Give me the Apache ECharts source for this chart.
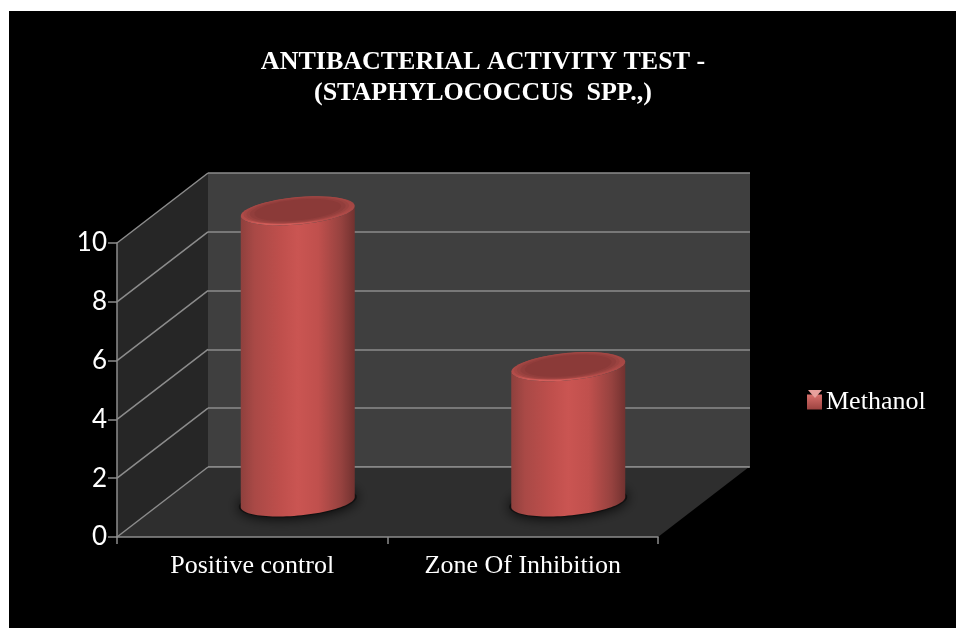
<!DOCTYPE html>
<html>
<head>
<meta charset="utf-8">
<title>Antibacterial activity test</title>
<script src="https://cdn.jsdelivr.net/npm/echarts@6/dist/echarts.min.js"></script>
<style>
    html, body { margin: 0; padding: 0; background: #fff; overflow: hidden; }
    #chart { position: absolute; left: 9px; top: 11px; width: 947px; height: 617px; background: #000; }
</style>
</head>
<body>
<div id="chart"></div>
<script>
const categories = ["Positive control", "Zone Of Inhibition"];
const methanol = [9.9, 4.6];
const yTicks = [0, 2, 4, 6, 8, 10];
const seriesName = "Methanol";

// offset from the front plane of the chart to the back wall
const DEPTH_X = 91;
const DEPTH_Y = -70;
const LINE = "#8c8c8c";

const chart = echarts.init(document.getElementById("chart"));

function ellipsePoints(cx, cy, rx, ry, tilt, from, to) {
    const pts = [];
    const steps = 48;
    for (let i = 0; i <= steps; i++) {
        const t = from + (to - from) * i / steps;
        pts.push([
            cx + rx * Math.cos(t),
            cy + ry * Math.sin(t) - tilt * Math.cos(t)
        ]);
    }
    return pts;
}

function renderRoom(params, api) {
    const c = params.coordSys;
    const x0 = c.x, x1 = c.x + c.width;
    const y0 = c.y + c.height, y1 = c.y;
    const children = [
        {
            type: "polygon",
            shape: { points: [[x0, y1], [x0 + DEPTH_X, y1 + DEPTH_Y], [x0 + DEPTH_X, y0 + DEPTH_Y], [x0, y0]] },
            style: { fill: "#262626" }
        },
        {
            type: "polygon",
            shape: { points: [[x0, y0], [x0 + DEPTH_X, y0 + DEPTH_Y], [x1 + DEPTH_X, y0 + DEPTH_Y], [x1, y0]] },
            style: { fill: "#2e2e2e" }
        },
        {
            type: "line",
            shape: { x1: x0 + DEPTH_X, y1: y0 + DEPTH_Y, x2: x1 + DEPTH_X, y2: y0 + DEPTH_Y },
            style: { stroke: LINE, lineWidth: 1.5 }
        }
    ];
    yTicks.forEach(v => {
        const y = api.coord([0, v])[1];
        children.push({
            type: "line",
            shape: { x1: x0, y1: y, x2: x0 + DEPTH_X, y2: y + DEPTH_Y },
            style: { stroke: LINE, lineWidth: 1.5 }
        });
    });
    return { type: "group", children: children };
}

function renderCylinder(params, api) {
    const base = api.coord([api.value(0), 0]);
    const top = api.coord([api.value(0), api.value(1)]);
    const cx = base[0] + DEPTH_X / 2;
    const rx = 57;
    const ry = 13.6;
    const tilt = 5;
    const yb = base[1] + DEPTH_Y / 2;
    const yt = top[1] + DEPTH_Y / 2;

    const body = ellipsePoints(cx, yb, rx, ry, tilt, Math.PI, 0)
        .reverse()
        .concat([])
        .map(p => p);
    // lower half of the base, then back up along the lower half of the top
    const lowerBase = ellipsePoints(cx, yb, rx, ry, tilt, Math.PI, 0);
    const lowerTop = ellipsePoints(cx, yt, rx, ry, tilt, 0, Math.PI);

    const children = [
        {
            type: "polygon",
            shape: { points: ellipsePoints(cx, yb, rx + 2, ry + 1, tilt, 0, Math.PI * 2) },
            style: { fill: "#111", shadowBlur: 14, shadowColor: "#000" }
        },
        {
            type: "polygon",
            shape: { points: lowerBase.concat(lowerTop) },
            style: {
                fill: new echarts.graphic.LinearGradient(0, 0, 1, 0, [
                    { offset: 0, color: "#8e403d" },
                    { offset: 0.12, color: "#a94946" },
                    { offset: 0.35, color: "#bf4f4c" },
                    { offset: 0.5, color: "#ca5552" },
                    { offset: 0.68, color: "#c0504d" },
                    { offset: 0.88, color: "#96423f" },
                    { offset: 1, color: "#723230" }
                ])
            }
        },
        {
            type: "polygon",
            shape: { points: ellipsePoints(cx, yt, rx, ry, tilt, 0, Math.PI * 2) },
            style: {
                fill: new echarts.graphic.LinearGradient(0, 0, 0, 1, [
                    { offset: 0, color: "#9c4441" },
                    { offset: 0.8, color: "#b54d4a" },
                    { offset: 1, color: "#d9615d" }
                ])
            }
        }
    ];
    [[0.95, "#a54744"], [0.9, "#9b4340"], [0.84, "#923e3c"], [0.76, "#8b3a38"]].forEach(layer => {
        const s = layer[0];
        children.push({
            type: "polygon",
            shape: { points: ellipsePoints(cx, yt - 1, rx * s, ry * s, tilt * s, 0, Math.PI * 2) },
            style: { fill: layer[1] }
        });
    });
    return { type: "group", children: children };
}

chart.setOption({
    animation: false,
    backgroundColor: "#000",
    title: {
        text: "ANTIBACTERIAL ACTIVITY TEST -\n(STAPHYLOCOCCUS  SPP.,)",
        left: 469,
        top: 31,
        textAlign: "center",
        textStyle: {
            color: "#fff",
            fontFamily: "Liberation Serif",
            fontWeight: "bold",
            fontSize: 26,
            lineHeight: 31
        }
    },
    legend: {
        left: 798,
        top: 378,
        itemWidth: 15,
        itemHeight: 15,
        itemGap: 0,
        padding: 0,
        data: [{
            name: seriesName,
            icon: "rect",
            itemStyle: {
                color: new echarts.graphic.LinearGradient(0, 0, 0, 1, [
                    { offset: 0, color: "#d9706c" },
                    { offset: 1, color: "#9c4340" }
                ])
            }
        }],
        textStyle: {
            color: "#fff",
            fontFamily: "Liberation Serif",
            fontSize: 26,
            padding: [0, 0, 0, -1]
        }
    },
    graphic: [{
        type: "polygon",
        z: 100,
        shape: { points: [[799, 379], [813, 379], [806, 387]] },
        style: { fill: "#e8a09c" }
    }],
    grid: [
        { left: 108, top: 232, width: 541, height: 294 },
        { left: 199, top: 162, width: 542, height: 294, show: true, backgroundColor: "#3f3f3f", borderWidth: 0 }
    ],
    xAxis: [
        {
            type: "category",
            data: categories,
            z: 5,
            axisLine: { show: true, lineStyle: { color: LINE, width: 1.5 } },
            axisTick: { show: true, length: 7, lineStyle: { color: LINE, width: 1.5 } },
            axisLabel: {
                color: "#fff",
                fontFamily: "Liberation Serif",
                fontSize: 26,
                margin: 16,
                interval: 0
            }
        },
        {
            type: "category",
            gridIndex: 1,
            data: categories,
            axisLine: { show: false },
            axisTick: { show: false },
            axisLabel: { show: false }
        }
    ],
    yAxis: [
        {
            type: "value",
            min: 0,
            max: 10,
            interval: 2,
            z: 5,
            axisLine: { show: true, lineStyle: { color: LINE, width: 1.5 } },
            axisTick: { show: true, length: 9, lineStyle: { color: LINE, width: 1.5 } },
            splitLine: { show: false },
            axisLabel: {
                color: "#fff",
                fontFamily: "Lato",
                fontSize: 26,
                margin: 10
            }
        },
        {
            type: "value",
            gridIndex: 1,
            min: 0,
            max: 10,
            interval: 2,
            axisLine: { show: false },
            axisTick: { show: false },
            axisLabel: { show: false },
            splitLine: { show: true, lineStyle: { color: LINE, width: 1.5 } }
        }
    ],
    series: [
        {
            type: "custom",
            name: "room",
            z: 1,
            silent: true,
            coordinateSystem: "cartesian2d",
            renderItem: renderRoom,
            data: [[0, 0]]
        },
        {
            type: "custom",
            name: seriesName,
            z: 6,
            coordinateSystem: "cartesian2d",
            renderItem: renderCylinder,
            itemStyle: { color: "#c0504d" },
            encode: { x: 0, y: 1 },
            data: categories.map((c, i) => [i, methanol[i]])
        }
    ]
});
</script>
</body>
</html>
